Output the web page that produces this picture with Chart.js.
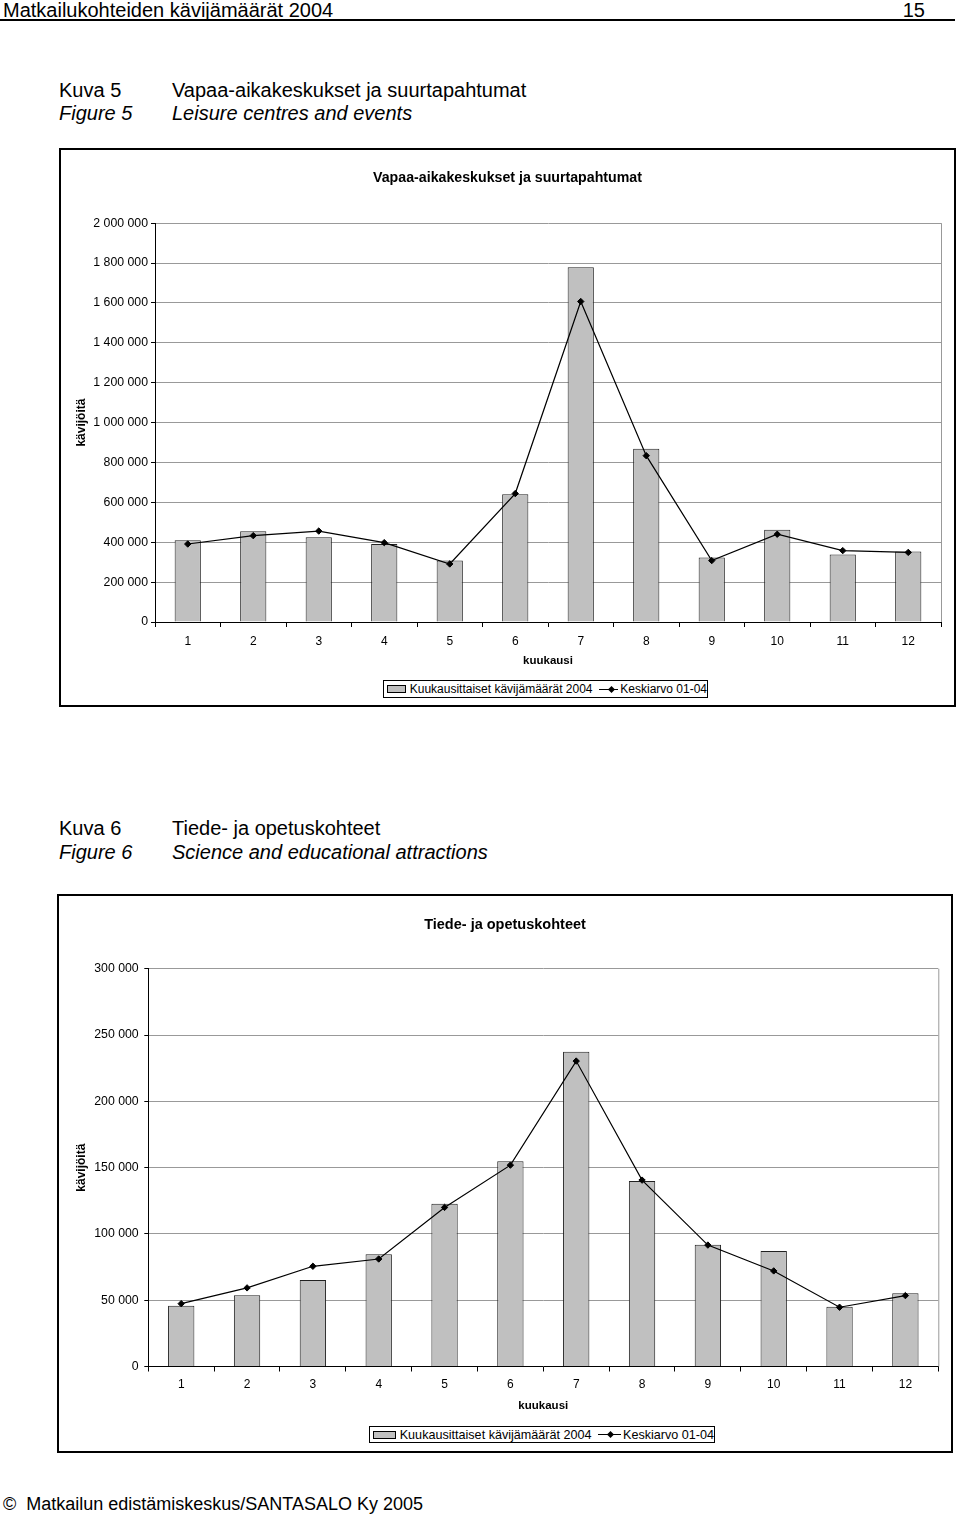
<!DOCTYPE html>
<html lang="fi">
<head>
<meta charset="utf-8">
<title>Matkailukohteiden kävijämäärät 2004</title>
<script src="https://cdn.jsdelivr.net/npm/chart.js@4/dist/chart.umd.min.js"></script>
<style>
    body { margin: 0; width: 960px; height: 1516px; position: relative; background: #fff; color: #000;
           font-family: 'Liberation Sans', Arial, sans-serif; overflow: hidden; }
    .t { position: absolute; font-size: 20px; line-height: 22px; white-space: nowrap; }
    .i { font-style: italic; }
    .rule { position: absolute; left: 0; top: 19px; width: 955px; height: 2px; background: #000; }
    .box { position: absolute; border: 2px solid #000; box-sizing: border-box; }
    canvas { position: absolute; }
    .legend { position: absolute; border: 1px solid #000; box-sizing: border-box; display: flex; align-items: center;
              font-size: 12px; white-space: nowrap; background: #fff; }
    .sw { display: inline-block; width: 22px; height: 6px; border: 1px solid #000; background: #c0c0c0; margin: 0 4px 0 3px; }
    .ln { display: inline-block; position: relative; width: 26px; height: 10px; margin: 0 2px 0 6px; }
    .ln::before { content: ''; position: absolute; left: 0; right: 0; top: 4.5px; height: 1px; background: #000; }
    .ln::after { content: ''; position: absolute; left: 10.5px; top: 2.5px; width: 5px; height: 5px; background: #000; transform: rotate(45deg); }
</style>
</head>
<body>
<div class="t" style="left:3px;top:-1px">Matkailukohteiden kävijämäärät 2004</div>
<div class="t" style="right:35px;top:-1px">15</div>
<div class="rule"></div>

<div class="t" style="left:59px;top:79px">Kuva 5</div>
<div class="t" style="left:172px;top:79px">Vapaa-aikakeskukset ja suurtapahtumat</div>
<div class="t i" style="left:59px;top:102px">Figure 5</div>
<div class="t i" style="left:172px;top:102px">Leisure centres and events</div>

<div class="box" style="left:59px;top:148px;width:897px;height:559px"></div>
<canvas id="chartLeisure" width="893" height="519" style="left:61px;top:150px"></canvas>
<div class="legend" style="left:383px;top:680px;width:325px;height:18px">
    <span class="sw"></span><span>Kuukausittaiset kävijämäärät 2004</span><span class="ln"></span><span>Keskiarvo 01-04</span>
</div>

<div class="t" style="left:59px;top:817px">Kuva 6</div>
<div class="t" style="left:172px;top:817px">Tiede- ja opetuskohteet</div>
<div class="t i" style="left:59px;top:841px">Figure 6</div>
<div class="t i" style="left:172px;top:841px">Science and educational attractions</div>

<div class="box" style="left:57px;top:894px;width:896px;height:559px"></div>
<canvas id="chartScience" width="892" height="517" style="left:59px;top:896px"></canvas>
<div class="legend" style="left:369px;top:1426px;width:346px;height:17px;font-size:12.6px">
    <span class="sw" style="width:23px"></span><span>Kuukausittaiset kävijämäärät 2004</span><span class="ln"></span><span>Keskiarvo 01-04</span>
</div>

<div class="t" style="left:3px;top:1493px;font-size:18px">©&nbsp; Matkailun edistämiskeskus/SANTASALO Ky 2005</div>

<script>
const months = ['1', '2', '3', '4', '5', '6', '7', '8', '9', '10', '11', '12'];

// Kuva 5 — vapaa-aikakeskukset ja suurtapahtumat
const leisure2004 = [410000, 455000, 425000, 391000, 309000, 640000, 1779000, 869000, 324000, 463000, 339000, 353000];
const leisureAvg = [391000, 433000, 456000, 398000, 291000, 644000, 1607000, 834000, 308000, 440000, 358000, 349000];
const leisureTicks = [0, 200000, 400000, 600000, 800000, 1000000, 1200000, 1400000, 1600000, 1800000, 2000000];

// Kuva 6 — tiede- ja opetuskohteet
const science2004 = [45900, 53800, 65300, 84600, 122700, 154900, 237500, 140000, 91900, 87100, 45000, 55300];
const scienceAvg = [47400, 59300, 75600, 81100, 120000, 151900, 230400, 140600, 91600, 72100, 44700, 53500];
const scienceTicks = [0, 50000, 100000, 150000, 200000, 250000, 300000];

const barLabel = 'Kuukausittaiset kävijämäärät 2004';
const lineLabel = 'Keskiarvo 01-04';

Chart.defaults.font.family = "'Liberation Sans', Arial, sans-serif";
Chart.defaults.color = '#000';
Chart.defaults.animation = false;

const fmt = (v) => String(v).replace(/\B(?=(\d{3})+(?!\d))/g, ' ');

// harmaa reunaviiva piirtoalueen oikealle puolelle
const plotFrame = {
    id: 'plotFrame',
    beforeDatasetsDraw(chart) {
        const { ctx, chartArea: a } = chart;
        ctx.save();
        ctx.strokeStyle = '#999';
        ctx.lineWidth = 1;
        ctx.beginPath();
        ctx.moveTo(a.right + 0.5, a.top);
        ctx.lineTo(a.right + 0.5, a.bottom);
        ctx.stroke();
        ctx.restore();
    },
};

function makeChart(id, title, bars, avg, ticks, lay) {
    new Chart(document.getElementById(id), {
        data: {
            labels: months,
            datasets: [
                {
                    type: 'line',
                    label: lineLabel,
                    data: avg,
                    borderColor: '#000',
                    borderWidth: 1.2,
                    tension: 0,
                    pointStyle: 'rectRot',
                    pointRadius: 3.2,
                    pointBackgroundColor: '#000',
                    pointBorderColor: '#000',
                    pointBorderWidth: 1,
                    order: 0,
                },
                {
                    type: 'bar',
                    label: barLabel,
                    data: bars,
                    backgroundColor: '#c0c0c0',
                    borderColor: '#222',
                    borderWidth: 1,
                    barPercentage: 0.4,
                    categoryPercentage: 1,
                    order: 1,
                },
            ],
        },
        options: {
            responsive: false,
            devicePixelRatio: 1,
            // sama reunus molemmille puolille, jotta otsikko keskittyy kehykseen
            layout: { padding: { top: 0, right: lay.pad, bottom: 0, left: lay.pad } },
            plugins: {
                legend: { display: false },
                tooltip: { enabled: false },
                title: {
                    display: true,
                    text: title,
                    font: { size: lay.titleSize, weight: 'bold' },
                    padding: { top: lay.titleTop, bottom: lay.titleBottom },
                },
            },
            scales: {
                x: {
                    offset: true,
                    grid: { offset: true, drawOnChartArea: false, color: '#000', tickLength: 5 },
                    border: { color: '#000', width: 1 },
                    ticks: { font: { size: 12 }, padding: lay.xTickPad, maxRotation: 0 },
                    title: {
                        display: true,
                        text: 'kuukausi',
                        font: { size: 11.5, weight: 'bold' },
                        padding: { top: 0, bottom: lay.xTitlePad },
                    },
                    afterFit: (s) => { s.height = lay.xHeight; },
                },
                y: {
                    min: ticks[0],
                    max: ticks[ticks.length - 1],
                    afterBuildTicks: (s) => { s.ticks = ticks.map((v) => ({ value: v })); },
                    grid: {
                        color: (c) => (c.tick && c.tick.value === 0 ? 'rgba(0,0,0,0)' : '#999'),
                        tickColor: '#000',
                        tickLength: 4,
                    },
                    border: { color: '#000', width: 1 },
                    ticks: { font: { size: 12.3 }, padding: lay.yTickPad, callback: (v) => fmt(v) },
                    title: {
                        display: true,
                        text: 'kävijöitä',
                        font: { size: 12, weight: 'bold' },
                        padding: { top: lay.yTitlePad, bottom: 0 },
                    },
                    afterFit: (s) => { s.width = lay.yWidth; },
                },
            },
        },
        plugins: [plotFrame],
    });
}

makeChart('chartLeisure', 'Vapaa-aikakeskukset ja suurtapahtumat', leisure2004, leisureAvg, leisureTicks, {
    pad: 13, titleSize: 14.2, titleTop: 20, titleBottom: 36.1,
    xHeight: 47, xTickPad: 7, xTitlePad: 1,
    yWidth: 81, yTickPad: 3, yTitlePad: 0.8,
});

makeChart('chartScience', 'Tiede- ja opetuskohteet', science2004, scienceAvg, scienceTicks, {
    pad: 12.7, titleSize: 14.5, titleTop: 19.8, titleBottom: 35.6,
    xHeight: 46.5, xTickPad: 6.4, xTitlePad: 0,
    yWidth: 76.6, yTickPad: 5.6, yTitlePad: 3.1,
});
</script>
</body>
</html>
